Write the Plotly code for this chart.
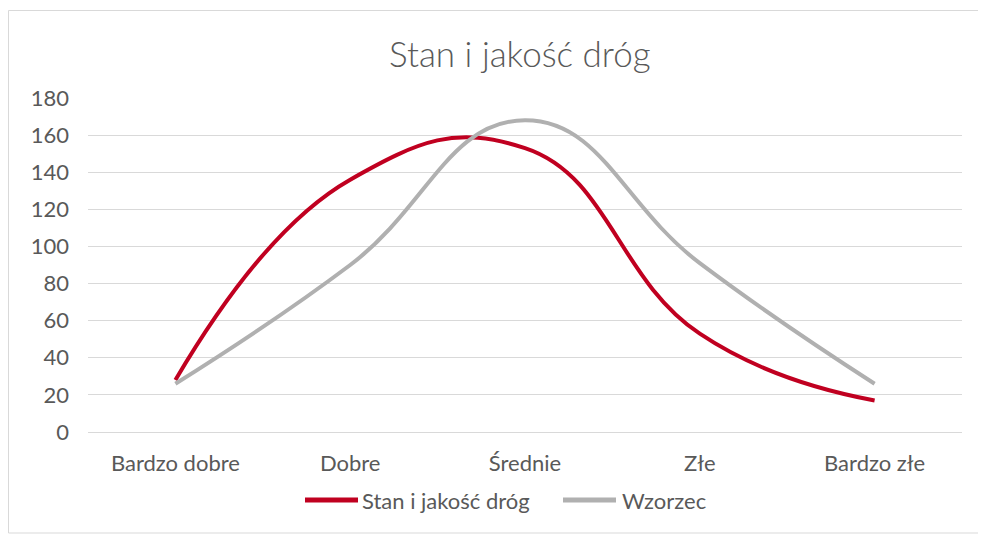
import plotly.graph_objects as go

categories = ["Bardzo dobre", "Dobre", "Średnie", "Złe", "Bardzo złe"]
stan_values = [28, 136, 153, 53, 17]
wzorzec_values = [26, 90, 168, 91, 26]
y_ticks = [0, 20, 40, 60, 80, 100, 120, 140, 160, 180]
series_names = ["Stan i jakość dróg", "Wzorzec"]
series_colors = ["#C00020", "#B0B0B0"]

# page has an 8px body margin; figure coordinates are page coordinates minus 8
OFF = 8
W, H = 986 - OFF, 534 - OFF
FONT = "Lato, 'Open Sans', sans-serif"
TXT = "#595959"

fig = go.Figure()
for name, vals, col in zip(series_names, [stan_values, wzorzec_values], series_colors):
    fig.add_trace(go.Scatter(
        x=categories, y=vals, name=name, mode="lines", showlegend=False,
        line=dict(color=col, width=4, shape="spline", smoothing=1.3)))

ml, mr, mt, mb = 88 - OFF, 24, 98 - OFF, 102
pw, ph = W - ml - mr, H - mt - mb

def px(x):
    return (x - OFF - ml) / pw

def py(y):
    return (H - mb - (y - OFF)) / ph

# custom legend (page pixel positions)
legend_items = [(305, 358, 360), (563, 616, 620)]
shapes = [dict(type="rect", xref="paper", yref="paper",
               x0=px(8.5), x1=px(985), y0=py(533), y1=py(10.5),
               line=dict(color="#D9D9D9", width=1), layer="below")]
annotations = []
for (x0, x1, tx), name, col in zip(legend_items, series_names, series_colors):
    shapes.append(dict(type="line", xref="paper", yref="paper",
                       x0=px(x0), x1=px(x1), y0=py(500), y1=py(500),
                       line=dict(color=col, width=5)))
    annotations.append(dict(text=name, xref="paper", yref="paper",
                            x=px(tx), y=py(500), xanchor="left", yanchor="middle",
                            showarrow=False, font=dict(size=22, color=TXT, family=FONT)))

annotations.append(dict(text="Stan i jakość dróg", xref="paper", yref="paper",
                        x=px(520), y=py(53), xanchor="center", yanchor="middle",
                        showarrow=False, font=dict(size=35, color=TXT, family=FONT, weight=300)))

fig.update_layout(
    width=W, height=H,
    margin=dict(l=ml, r=mr, t=mt, b=mb),
    paper_bgcolor="white", plot_bgcolor="white",
    font=dict(family=FONT, size=22, color=TXT),
    xaxis=dict(type="category", range=[-0.5, 4.5], showgrid=False,
               showline=True, linecolor="#D9D9D9", linewidth=1,
               ticks="", tickfont=dict(size=22, color=TXT), ticklabelstandoff=12,
               fixedrange=True),
    yaxis=dict(range=[0, 180], tickvals=y_ticks, showgrid=True,
               gridcolor="#D9D9D9", gridwidth=1, zeroline=False,
               ticks="", tickfont=dict(size=22, color=TXT), ticklabelstandoff=18,
               fixedrange=True),
    showlegend=False,
    shapes=shapes,
    annotations=annotations,
)

fig.write_html("out.html")
